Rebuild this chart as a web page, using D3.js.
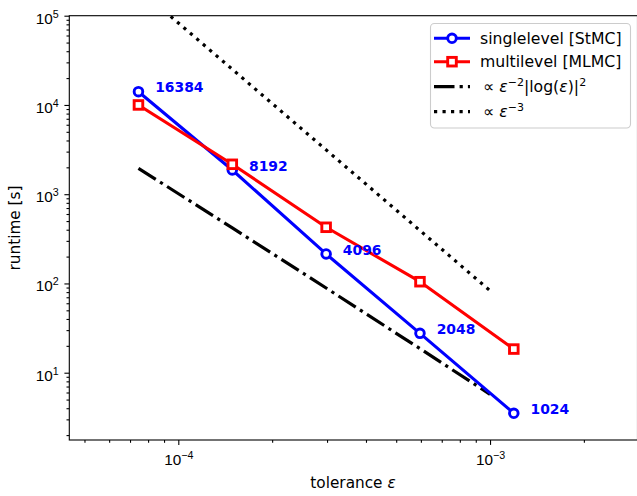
<!DOCTYPE html>
<html>
<head>
<meta charset="utf-8">
<script src="https://cdn.jsdelivr.net/npm/d3@7"></script>
<style>
  html, body { margin: 0; padding: 0; background: #fff; }
  svg { display: block; font-family: "DejaVu Sans", sans-serif; }
</style>
</head>
<body>
<svg id="chart" width="637" height="496"></svg>
<script>
// ---- data ----
const tolerance = [7.45e-5, 1.49e-4, 2.98e-4, 5.96e-4, 1.192e-3];
const singlelevelRuntime = [14080, 1867, 214, 27.6, 3.51];
const multilevelRuntime = [10000, 2163, 426, 104.6, 18.4];
const sampleLabels = ["16384", "8192", "4096", "2048", "1024"];
const refLogEps = [7.45e-5, 1.49e-4, 2.98e-4, 5.96e-4, 1e-3];
const refLogValues = [1950, 419, 88.9, 18.6, 5.72];
const refCubicEps = [7.45e-5, 1e-3];
const refCubicValues = [200700, 83];
const xMajorTicks = [1e-4, 1e-3];
const xTickExponents = ["\u22124", "\u22123"];
const yMajorTicks = [1e1, 1e2, 1e3, 1e4, 1e5];
const yTickExponents = ["1", "2", "3", "4", "5"];
const legendLabels = ["singlelevel [StMC]", "multilevel [MLMC]"];

// ---- layout ----
const L = 69.3, R = 637.5, T = 15.7, B = 440;
const FS = 15.3, SUP = 10.7, FSD = 13.9, FSL = 15.7, SUPL = 11;
const svg = d3.select("#chart");

const x = d3.scaleLog().domain([4.47e-5, 2.972e-3]).range([L, R]);
const y = d3.scaleLog().domain([1.762, 1e5]).range([B, T]);

function minorTicks(scale) {
  const [a, b] = scale.domain();
  const out = [];
  for (let e = Math.floor(Math.log10(a)); e <= Math.ceil(Math.log10(b)); e++) {
    for (let m = 2; m <= 9; m++) {
      const v = m * Math.pow(10, e);
      if (v >= a && v <= b) out.push(v);
    }
  }
  return out;
}

svg.append("defs").append("clipPath").attr("id", "clip")
  .append("rect").attr("x", L).attr("y", T).attr("width", R - L).attr("height", B - T);

// ---- axes ----
const gx = svg.append("g").attr("transform", `translate(0,${B})`);
gx.call(d3.axisBottom(x).tickValues(minorTicks(x)).tickSize(2.8).tickFormat(() => ""));
const gxM = svg.append("g").attr("transform", `translate(0,${B})`);
gxM.call(d3.axisBottom(x).tickValues(xMajorTicks).tickSize(4.9).tickFormat(() => ""));
const gy = svg.append("g").attr("transform", `translate(${L},0)`);
gy.call(d3.axisLeft(y).tickValues(minorTicks(y)).tickSize(2.8).tickFormat(() => ""));
const gyM = svg.append("g").attr("transform", `translate(${L},0)`);
gyM.call(d3.axisLeft(y).tickValues(yMajorTicks).tickSize(4.9).tickFormat(() => ""));
svg.selectAll(".domain").remove();
svg.selectAll(".tick line").attr("stroke", "#000").attr("stroke-width", 1.1);

function powLabel(sel, exp) {
  sel.append("tspan").text("10");
  sel.append("tspan").attr("font-size", SUP).attr("dy", -6).text(exp);
}
gxM.selectAll(".tick").each(function(d, i) {
  const t = d3.select(this).append("text").attr("fill", "#000")
    .attr("font-size", FS).attr("text-anchor", "middle").attr("y", 25).attr("dy", 0);
  powLabel(t, xTickExponents[i]);
});
gyM.selectAll(".tick").each(function(d, i) {
  const t = d3.select(this).append("text").attr("fill", "#000")
    .attr("font-size", FS).attr("text-anchor", "end").attr("x", -10.5).attr("y", 7.3);
  powLabel(t, yTickExponents[i]);
});

// spines
svg.append("rect").attr("x", L).attr("y", T).attr("width", R - L).attr("height", B - T)
  .attr("fill", "none").attr("stroke", "#000").attr("stroke-width", 1.1);

// axis labels
const xl = svg.append("text").attr("x", 353).attr("y", 488).attr("text-anchor", "middle")
  .attr("font-size", FS);
xl.append("tspan").text("tolerance ");
xl.append("tspan").attr("font-style", "italic").text("\u03b5");
svg.append("text").attr("transform", "translate(20,228) rotate(-90)")
  .attr("text-anchor", "middle").attr("font-size", FS).text("runtime [s]");

// ---- reference lines ----
const plot = svg.append("g").attr("clip-path", "url(#clip)");
const line = d3.line().x(d => x(d[0])).y(d => y(d[1]));
const LW = 3.2;
plot.append("path").datum(refLogEps.map((e, i) => [e, refLogValues[i]]))
  .attr("d", line).attr("fill", "none").attr("stroke", "#000").attr("stroke-width", LW)
  .attr("stroke-dasharray", "20.5 5.1 3.2 5.1");
plot.append("path").datum(refCubicEps.map((e, i) => [e, refCubicValues[i]]))
  .attr("d", line).attr("fill", "none").attr("stroke", "#000").attr("stroke-width", LW)
  .attr("stroke-dasharray", "3.2 5.3");

// ---- data series ----
const series = [
  { vals: singlelevelRuntime, color: "#0000ff", marker: "circle" },
  { vals: multilevelRuntime, color: "#ff0000", marker: "square" }
];
function drawMarker(g, type, cx, cy, color) {
  if (type === "circle") {
    g.append("circle").attr("cx", cx).attr("cy", cy).attr("r", 4.3)
      .attr("fill", "#fff").attr("stroke", color).attr("stroke-width", 2.9);
  } else {
    g.append("rect").attr("x", cx - 4.3).attr("y", cy - 4.3).attr("width", 8.6).attr("height", 8.6)
      .attr("fill", "#fff").attr("stroke", color).attr("stroke-width", 2.9);
  }
}
series.forEach(s => {
  const g = svg.append("g");
  g.append("path").datum(tolerance.map((e, i) => [e, s.vals[i]]))
    .attr("d", line).attr("fill", "none").attr("stroke", s.color).attr("stroke-width", 3.1)
    .attr("stroke-linejoin", "round").attr("stroke-linecap", "square");
  tolerance.forEach((e, i) => drawMarker(g, s.marker, x(e), y(s.vals[i]), s.color));
});

// sample labels
svg.append("g").selectAll("text").data(sampleLabels).join("text")
  .attr("x", (d, i) => x(tolerance[i]) + 16.7)
  .attr("y", (d, i) => y(singlelevelRuntime[i]) + 0.8)
  .attr("fill", "#0000ff").attr("font-weight", "bold").attr("font-size", FSD)
  .text(d => d);

// ---- legend ----
const lg = svg.append("g");
lg.append("rect").attr("x", 430.5).attr("y", 23.5).attr("width", 200).attr("height", 104.5)
  .attr("rx", 3.9).attr("fill", "#fff").attr("fill-opacity", 0.8)
  .attr("stroke", "#cccccc").attr("stroke-width", 1.1);
const rowY = [38.3, 61.7, 86.7, 111.7];
series.forEach((s, i) => {
  lg.append("line").attr("x1", 434).attr("x2", 470).attr("y1", rowY[i]).attr("y2", rowY[i])
    .attr("stroke", s.color).attr("stroke-width", 3.1);
  drawMarker(lg, s.marker, 452, rowY[i], s.color);
  lg.append("text").attr("x", 480).attr("y", rowY[i] + 5.6).attr("font-size", FSL).text(legendLabels[i]);
});
lg.append("line").attr("x1", 434).attr("x2", 470).attr("y1", rowY[2]).attr("y2", rowY[2])
  .attr("stroke", "#000").attr("stroke-width", LW).attr("stroke-dasharray", "20.5 5.1 3.2 5.1");
lg.append("line").attr("x1", 434).attr("x2", 470).attr("y1", rowY[3]).attr("y2", rowY[3])
  .attr("stroke", "#000").attr("stroke-width", LW).attr("stroke-dasharray", "3.2 5.3");

const t3 = lg.append("text").attr("x", 483).attr("y", rowY[2] + 5.6).attr("font-size", FSL);
t3.append("tspan").text("\u221d ");
t3.append("tspan").attr("font-style", "italic").text("\u03b5");
t3.append("tspan").attr("font-size", SUPL).attr("dy", -6).text("\u22122");
t3.append("tspan").attr("dy", 6).text("|log(");
t3.append("tspan").attr("font-style", "italic").text("\u03b5");
t3.append("tspan").text(")|");
t3.append("tspan").attr("font-size", SUPL).attr("dy", -6).text("2");

const t4 = lg.append("text").attr("x", 483).attr("y", rowY[3] + 5.6).attr("font-size", FSL);
t4.append("tspan").text("\u221d ");
t4.append("tspan").attr("font-style", "italic").text("\u03b5");
t4.append("tspan").attr("font-size", SUPL).attr("dy", -6).text("\u22123");
</script>
</body>
</html>
